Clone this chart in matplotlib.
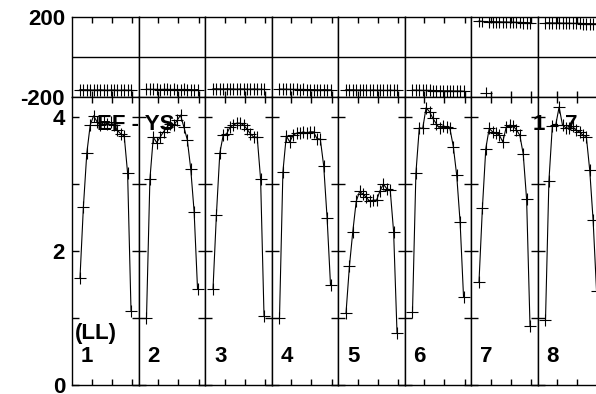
import numpy as np
import matplotlib
matplotlib.use("Agg")
import matplotlib.pyplot as plt

plt.rcParams['font.family'] = ['Liberation Sans', 'DejaVu Sans']

channels = list(range(1, 17))
panel_labels = ["1", "2", "3", "4", "5", "6", "7", "8"]
title_left = "EF - YS"
title_right = "1 - 7"
pol_label = "(LL)"

amp1 = [1.60, 2.66, 3.46, 3.88, 4.02, 3.93, 3.88, 3.92, 3.90, 3.92, 3.88, 3.80, 3.75, 3.72, 3.16, 1.11]
amp2 = [1.00, 3.07, 3.70, 3.62, 3.70, 3.78, 3.85, 3.90, 3.88, 3.95, 4.03, 3.85, 3.66, 3.23, 2.59, 1.44]
amp3 = [1.43, 2.54, 3.46, 3.73, 3.75, 3.85, 3.88, 3.91, 3.91, 3.88, 3.82, 3.75, 3.70, 3.70, 3.07, 1.03]
amp4 = [1.00, 3.18, 3.72, 3.63, 3.73, 3.76, 3.76, 3.78, 3.76, 3.78, 3.78, 3.68, 3.67, 3.27, 2.49, 1.49]
amp5 = [1.07, 1.77, 2.29, 2.74, 2.89, 2.85, 2.80, 2.74, 2.76, 2.76, 2.90, 3.00, 2.93, 2.91, 2.29, 0.78]
amp6 = [1.09, 3.16, 3.84, 3.83, 4.14, 4.08, 3.98, 3.90, 3.83, 3.87, 3.85, 3.83, 3.56, 3.13, 2.43, 1.32]
amp7 = [1.54, 2.64, 3.53, 3.83, 3.78, 3.76, 3.73, 3.63, 3.85, 3.88, 3.87, 3.81, 3.73, 3.45, 2.77, 0.88]
amp8 = [0.97, 3.04, 3.86, 3.88, 4.15, 3.88, 3.84, 3.83, 3.86, 3.80, 3.78, 3.73, 3.71, 3.21, 2.46, 1.41]

ph1 = [-163, -164, -164, -165, -165, -165, -164, -165, -166, -165, -165, -166, -166, -165, -166, -166]
ph2 = [-161, -162, -162, -162, -163, -162, -162, -163, -162, -163, -163, -162, -163, -163, -164, -163]
ph3 = [-159, -159, -160, -160, -159, -160, -160, -161, -160, -160, -161, -161, -160, -161, -161, -162]
ph4 = [-160, -161, -161, -162, -162, -162, -163, -162, -163, -163, -163, -164, -164, -163, -164, -164]
ph5 = [-163, -164, -164, -165, -165, -165, -166, -166, -165, -166, -166, -167, -167, -166, -167, -167]
ph6 = [-165, -166, -166, -167, -167, -167, -168, -168, -168, -169, -169, -169, -170, -170, -170, -171]
ph7 = [180, 178, -182, 177, 177, 176, 176, 175, 175, 174, 174, 173, 173, 172, 172, 171]
ph8 = [171, 171, 170, 170, 170, 169, 169, 169, 168, 168, 168, 167, 167, 167, 166, 166]

amps = [amp1, amp2, amp3, amp4, amp5, amp6, amp7, amp8]
phases = [ph1, ph2, ph3, ph4, ph5, ph6, ph7, ph8]

W, H = 596, 394
fig = plt.figure(figsize=(W / 100, H / 100), dpi=100)

x0 = 72
pw = 66.5
top_y0, top_y1 = 17, 97
bot_y0, bot_y1 = 97, 385
xlim = (-1.35, 18.2)
xt = [4.5, 10.4, 16.3]

fsz = 16
lw = 0.8
ms = 9

def px_axes(left, top, width, height):
    return fig.add_axes([left / W, 1 - (top + height) / H, width / W, height / H])

for i in range(8):
    left = x0 + i * pw
    # phase row
    axp = px_axes(left, top_y0, pw, top_y1 - top_y0)
    axp.set_xlim(*xlim)
    axp.set_ylim(-200, 200)
    ph = np.array(phases[i], dtype=float)
    ch = np.array(channels, dtype=float)
    xs, ys = [], []
    for k in range(len(ch)):
        if k > 0 and abs(ph[k] - ph[k - 1]) > 180:
            xs.append(np.nan); ys.append(np.nan)
        xs.append(ch[k]); ys.append(ph[k])
    axp.plot(xs, ys, color='black', lw=lw)
    axp.plot(ch, ph, linestyle='none', marker='+', color='black', ms=ms, mew=lw)
    axp.axhline(0, color='black', lw=1)
    axp.set_xticks(xt)
    axp.tick_params(axis='x', which='both', direction='in', length=4, top=True, bottom=True,
                    labelbottom=False, width=1)
    axp.set_yticks([-200, 200])
    if i == 0:
        axp.set_yticklabels(['-200', '200'], fontsize=fsz, fontweight='bold')
    else:
        axp.set_yticklabels([])
    axp.tick_params(axis='y', direction='in', length=0, pad=5)
    for s in axp.spines.values():
        s.set_linewidth(1)

    # amplitude row
    axa = px_axes(left, bot_y0, pw, bot_y1 - bot_y0)
    axa.set_xlim(*xlim)
    axa.set_ylim(0, 4.3)
    axa.plot(ch, amps[i], color='black', lw=lw, marker='+', ms=ms, mew=lw)
    axa.set_xticks(xt)
    axa.tick_params(axis='x', direction='in', length=4, top=True, bottom=True,
                    labelbottom=False, width=1)
    axa.set_yticks([0, 1, 2, 3, 4])
    if i == 0:
        axa.set_yticklabels(['0', '', '2', '', '4'], fontsize=fsz, fontweight='bold')
    else:
        axa.set_yticklabels([])
    axa.tick_params(axis='y', direction='in', length=5, left=True, right=True, pad=5, width=1)
    for s in axa.spines.values():
        s.set_linewidth(1)
    axa.text(9 / pw, 1 - (356 - bot_y0) / (bot_y1 - bot_y0), panel_labels[i],
             transform=axa.transAxes, fontsize=fsz, fontweight='bold',
             ha='left', va='center')

fig.text(75 / W, 1 - 334 / H, pol_label, fontsize=fsz, fontweight='bold', ha='left', va='center')
fig.text(97 / W, 1 - 125 / H, title_left, fontsize=fsz, fontweight='bold', ha='left', va='center')
fig.text(533 / W, 1 - 124 / H, title_right, fontsize=fsz, fontweight='bold', ha='left', va='center')

fig.savefig("out.png", dpi=100)
